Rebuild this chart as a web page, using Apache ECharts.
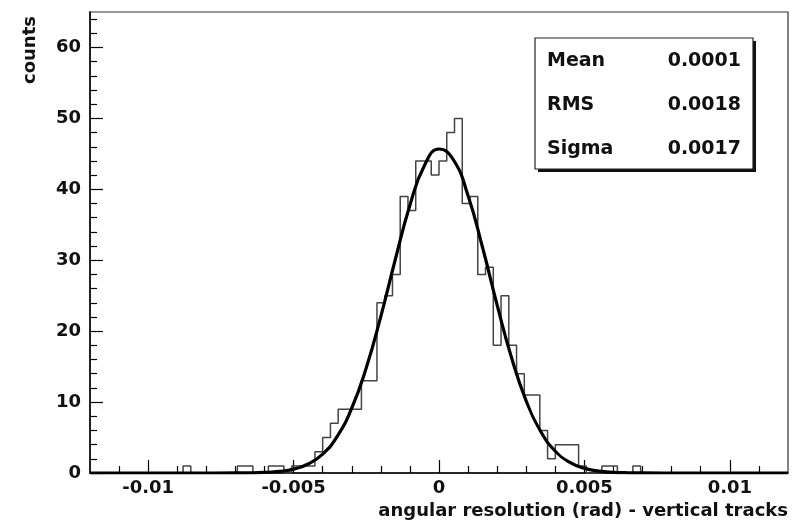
<!DOCTYPE html>
<html><head><meta charset="utf-8">
<script src="https://cdn.jsdelivr.net/npm/echarts@6/dist/echarts.min.js"></script>
<style>html,body{margin:0;padding:0;background:#fff}#c{width:792px;height:526px}</style>
</head><body><div id="c"></div>
<script>
// ---- data ----
const histMin = -0.012;
const histMax = 0.012;
const binCount = 90;
const binCounts = [
  0,0,0,0,0,0,0,0,0,0,   // 0-9
  0,0,1,0,0,0,0,0,0,1,   // 10-19
  1,0,0,1,1,0,1,1,1,3,   // 20-29
  5,7,9,9,9,13,13,24,25,28, // 30-39
  39,37,44,44,42,44,48,50,38,39, // 40-49
  28,29,18,25,18,14,11,11,6,2,   // 50-59
  4,4,4,1,0,0,1,1,0,0,   // 60-69
  1,0,0,0,0,0,0,0,0,0,   // 70-79
  0,0,0,0,0,0,0,0,0,0    // 80-89
];
// fit curve (drawn across the whole axis, ~0 in the tails)
const fitX = [-0.012,-0.0085,-0.007,-0.0065,-0.006,
              -0.0055,-0.005,-0.0045,-0.004,-0.0035,-0.003,-0.0025,-0.002,-0.0015,-0.001,-0.0005,0,
              0.0005,0.001,0.0015,0.002,0.0025,0.003,0.0035,0.004,0.0045,0.005,0.0055,0.006,
              0.0065,0.007,0.0085,0.012];
const fitY = [0,0,0.005,0.02,0.08,
              0.22,0.55,1.27,2.67,5.16,9.15,14.84,22.09,30.14,37.76,43.37,45.68,
              44.13,39.09,31.76,23.67,16.18,10.14,5.83,3.07,1.49,0.66,0.27,0.10,
              0.03,0.01,0,0];
const xMajorTicks = [-0.01,-0.005,0,0.005,0.01];
const xMinorTicks = [-0.011,-0.009,-0.008,-0.007,-0.006,-0.004,-0.003,-0.002,-0.001,
                     0.001,0.002,0.003,0.004,0.006,0.007,0.008,0.009,0.011];
const yMajorTicks = [0,10,20,30,40,50,60];
const yMinorTicks = [2,4,6,8,12,14,16,18,22,24,26,28,32,34,36,38,42,44,46,48,52,54,56,58,62,64];
const statsNames = ['Mean','RMS','Sigma'];
const statsValues = ['0.0001','0.0018','0.0017'];
const xTitle = 'angular resolution (rad) - vertical tracks';
const yTitle = 'counts';

// ---- build ----
const bw = (histMax - histMin) / binCount;
const histData = binCounts.map((c, k) => [histMin + k * bw, c]);
histData.push([histMax, binCounts[binCount - 1]]);
const fitData = fitX.map((x, i) => [x, fitY[i]]);

const FONT = '"DejaVu Sans", "Liberation Sans", Arial, sans-serif';
const chart = echarts.init(document.getElementById('c'), null, {renderer: 'canvas'});

const statsGraphics = [];
const rowY = [61, 105.5, 149];
statsGraphics.push({type:'rect', z:100, shape:{x:538, y:41, width:218, height:131}, style:{fill:'#111'}});
statsGraphics.push({type:'rect', z:101, shape:{x:535, y:38, width:218, height:131}, style:{fill:'#fff', stroke:'#222', lineWidth:1.2}});
statsNames.forEach((n, i) => {
  statsGraphics.push({type:'text', z:102, x:547, y:rowY[i], style:{text:n, fontFamily:FONT, fontWeight:'bold', fontSize:19, fill:'#111', align:'left', verticalAlign:'middle'}});
  statsGraphics.push({type:'text', z:102, x:741, y:rowY[i], style:{text:statsValues[i], fontFamily:FONT, fontWeight:'bold', fontSize:19, fill:'#111', align:'right', verticalAlign:'middle'}});
});

const option = {
  backgroundColor: '#fff',
  animation: false,
  grid: {left: 90, right: 4, top: 12, bottom: 53, show: true, borderColor: '#333', borderWidth: 1.2, backgroundColor: 'transparent'},
  xAxis: [
    {
      type: 'value', min: histMin, max: histMax,
      axisLine: {show: true, onZero: false, lineStyle: {color: '#000', width: 1.5}},
      axisTick: {show: true, inside: true, length: 13, customValues: xMajorTicks, lineStyle: {color: '#000', width: 1.2}},
      axisLabel: {show: true, customValues: xMajorTicks, margin: 6, color: '#111', fontFamily: FONT, fontWeight: 'bold', fontSize: 18},
      splitLine: {show: false}
    },
    {
      type: 'value', min: histMin, max: histMax, position: 'bottom',
      axisLine: {show: false, onZero: false},
      axisTick: {show: true, inside: true, length: 7, customValues: xMinorTicks, lineStyle: {color: '#000', width: 1.2}},
      axisLabel: {show: false},
      splitLine: {show: false}
    }
  ],
  yAxis: [
    {
      type: 'value', min: 0, max: 65,
      axisLine: {show: true, onZero: false, lineStyle: {color: '#000', width: 1.5}},
      axisTick: {show: true, inside: true, length: 13, customValues: yMajorTicks, lineStyle: {color: '#000', width: 1.2}},
      axisLabel: {show: true, customValues: yMajorTicks, margin: 9, color: '#111', fontFamily: FONT, fontWeight: 'bold', fontSize: 18},
      splitLine: {show: false}
    },
    {
      type: 'value', min: 0, max: 65, position: 'left',
      axisLine: {show: false, onZero: false},
      axisTick: {show: true, inside: true, length: 7, customValues: yMinorTicks, lineStyle: {color: '#000', width: 1.2}},
      axisLabel: {show: false},
      splitLine: {show: false}
    }
  ],
  series: [
    {
      type: 'line', xAxisIndex: 0, yAxisIndex: 0, data: histData, step: 'end',
      showSymbol: false, symbol: 'none', lineStyle: {color: '#444', width: 1.5}, z: 3
    },
    {
      type: 'line', xAxisIndex: 0, yAxisIndex: 0, data: fitData, smooth: 0.5,
      showSymbol: false, symbol: 'none', lineStyle: {color: '#000', width: 3.2}, z: 4
    }
  ],
  graphic: [
    {type:'text', z:100, x:30, y:50, rotation: Math.PI/2, style:{text: yTitle, fontFamily: FONT, fontWeight:'bold', fontSize:18, fill:'#111', align:'center', verticalAlign:'middle'}},
    {type:'text', z:100, x:788, y:511, style:{text: xTitle, fontFamily: FONT, fontWeight:'bold', fontSize:18, fill:'#111', align:'right', verticalAlign:'middle'}}
  ].concat(statsGraphics)
};
chart.setOption(option);
</script>
</body></html>
